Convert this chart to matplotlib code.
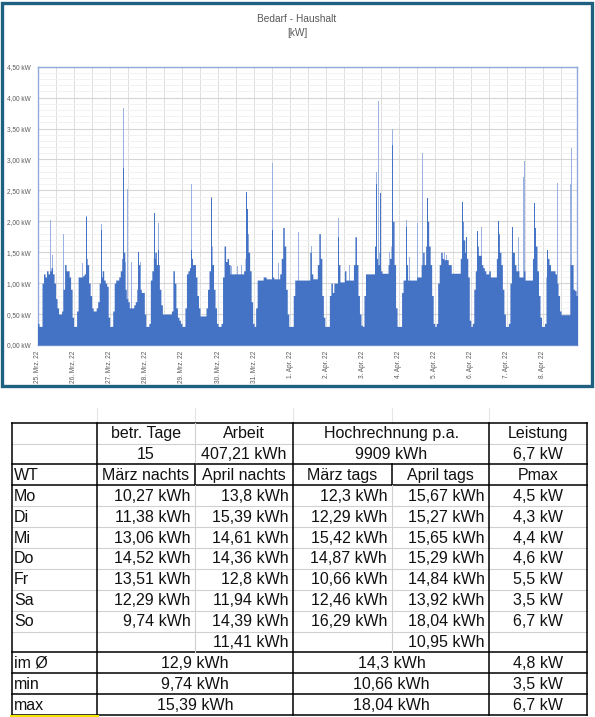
import numpy as np
import pandas as pd
import matplotlib
matplotlib.use("Agg")
import matplotlib.pyplot as plt
import matplotlib.dates as mdates
from matplotlib.patches import Rectangle

plt.rcParams["font.family"] = ["Liberation Sans", "DejaVu Sans"]

# --- DATA ---
# hourly load per day in kW, 25.03.22 - 08.04.22
kw_25mar = [0.35, 0.3, 0.3, 1.0, 1.15, 1.1, 1.2, 1.15, 1.2, 1.25, 1.15, 1.0, 0.75, 0.6, 0.5, 0.5, 0.55, 0.9, 1.3, 1.2, 1.2, 1.1, 0.9, 0.45]
kw_26mar = [0.3, 0.3, 0.55, 1.1, 1.1, 1.1, 1.12, 1.15, 1.4, 1.3, 1.0, 0.8, 0.6, 0.55, 0.55, 0.6, 0.7, 1.0, 1.1, 1.2, 1.05, 1.0, 0.95, 0.45]
kw_27mar = [0.3, 0.3, 0.55, 1.0, 1.05, 1.05, 1.1, 1.2, 1.4, 1.5, 0.9, 0.75, 0.7, 0.6, 0.6, 0.6, 0.65, 0.7, 0.9, 1.3, 0.9, 0.85, 0.85, 0.5]
kw_28mar = [0.3, 0.3, 0.35, 1.05, 1.2, 1.4, 1.5, 1.3, 1.3, 0.9, 0.65, 0.5, 0.5, 0.5, 0.5, 0.5, 0.5, 0.55, 1.2, 1.0, 0.6, 0.45, 0.4, 0.35]
kw_29mar = [0.3, 0.3, 0.6, 1.15, 1.2, 1.25, 1.4, 1.3, 1.3, 1.1, 0.8, 0.6, 0.47, 0.47, 0.47, 0.47, 0.6, 0.9, 1.2, 1.6, 1.3, 0.9, 0.6, 0.35]
kw_30mar = [0.3, 0.3, 0.35, 1.1, 1.6, 1.35, 1.4, 1.3, 1.15, 1.15, 1.15, 1.15, 1.15, 1.15, 1.15, 1.15, 1.15, 1.2, 1.4, 1.8, 1.5, 1.2, 0.7, 0.35]
kw_31mar = [0.3, 0.6, 1.05, 1.05, 1.05, 1.05, 1.1, 1.1, 1.07, 1.07, 1.07, 1.07, 1.1, 1.07, 1.07, 1.07, 1.07, 1.15, 1.4, 1.9, 1.6, 0.9, 0.5, 0.3]
kw_01apr = [0.3, 0.3, 0.8, 1.05, 1.05, 1.05, 1.05, 1.05, 1.05, 1.05, 1.05, 1.05, 1.05, 1.5, 1.15, 1.07, 1.07, 1.07, 1.3, 1.8, 1.4, 0.8, 0.45, 0.3]
kw_02apr = [0.3, 0.3, 0.8, 1.0, 0.85, 1.0, 1.0, 1.0, 1.3, 1.02, 1.02, 1.02, 1.2, 1.05, 1.05, 1.05, 1.05, 1.05, 1.3, 1.75, 1.3, 0.8, 0.5, 0.32]
kw_03apr = [0.3, 0.8, 1.15, 1.15, 1.15, 1.15, 1.15, 1.15, 1.6, 1.4, 1.3, 1.5, 1.2, 1.16, 1.16, 1.16, 1.16, 1.3, 1.4, 1.6, 2.0, 1.3, 0.6, 0.3]
kw_04apr = [0.3, 0.3, 0.85, 1.05, 1.05, 1.3, 1.05, 1.05, 1.05, 1.05, 1.05, 1.05, 1.1, 1.1, 1.1, 1.3, 1.5, 1.3, 1.6, 2.0, 1.6, 1.3, 0.8, 0.35]
kw_05apr = [0.3, 0.35, 1.0, 1.3, 1.5, 1.4, 1.38, 1.38, 1.38, 1.3, 1.3, 1.16, 1.16, 1.16, 1.16, 1.16, 1.16, 1.4, 2.0, 1.7, 1.5, 1.4, 1.1, 0.4]
kw_06apr = [0.3, 0.35, 0.9, 1.2, 1.6, 1.45, 1.45, 1.3, 1.25, 1.2, 1.15, 1.15, 1.2, 1.1, 1.1, 1.1, 1.1, 1.4, 1.8, 1.5, 1.3, 0.9, 0.5, 0.3]
kw_07apr = [0.3, 0.35, 1.0, 1.5, 1.5, 1.3, 1.2, 1.2, 1.1, 1.1, 1.1, 1.2, 1.05, 1.05, 1.05, 1.05, 1.05, 1.4, 1.9, 1.6, 1.2, 0.8, 0.45, 0.3]
kw_08apr = [0.3, 0.35, 1.1, 1.4, 1.3, 1.2, 1.2, 1.2, 1.15, 1.0, 0.8, 0.55, 0.49, 0.49, 0.49, 0.49, 0.49, 0.49, 1.3, 1.3, 0.9, 0.88, 0.8, 0.6]

# short load peaks (day index from 25.03., hour of day, kW)
spike_day = [0, 0, 0, 0, 0, 0, 0,
             1, 1, 1, 1,
             2, 2, 2, 2, 2, 2, 2, 2, 2,
             3, 3, 3,
             4, 4, 4, 4, 4,
             5, 5, 5, 5, 5, 5,
             6, 6, 6, 6,
             7, 7, 7, 7, 7, 7,
             8, 8, 8, 8,
             9, 9, 9, 9, 9,
             10, 10, 10, 10, 10, 10,
             11, 11, 11, 11, 11,
             12, 12, 12, 12, 12,
             13, 13, 13, 13, 13,
             14, 14, 14, 14, 14]
spike_hour = [0.2, 4.3, 8.8, 10.1, 14.3, 17.2, 18.3,
              6.0, 8.4, 14.2, 18.6,
              4.9, 9.0, 10.5, 11.7, 12.3, 13.5, 14.5, 16.9, 20.5,
              6.0, 8.3, 13.3,
              5.3, 6.4, 8.0, 14.6, 19.7,
              4.7, 9.0, 11.8, 13.0, 15.7, 19.2,
              5.8, 7.3, 12.2, 16.2,
              5.4, 6.5, 9.9, 11.0, 13.2, 14.3,
              6.5, 8.0, 12.4, 15.5,
              8.4, 9.5, 10.6, 18.0, 20.0,
              5.4, 7.2, 12.5, 14.3, 15.9, 19.7,
              4.2, 6.5, 8.0, 13.0, 20.8,
              4.0, 7.0, 12.0, 14.0, 18.6,
              3.5, 7.8, 11.2, 11.6, 19.2,
              3.2, 6.0, 9.5, 18.3, 19.1]
spike_kw = [2.4, 1.75, 2.02, 1.45, 1.6, 1.8, 3.5,
            1.32, 2.08, 2.54, 1.95,
            1.5, 3.83, 1.35, 2.53, 1.6, 1.97, 1.35, 2.95, 1.35,
            3.17, 1.97, 1.54,
            1.91, 2.6, 3.32, 1.65, 2.4,
            2.1, 1.27, 2.37, 1.28, 1.3, 2.5,
            1.8, 1.6, 2.94, 1.32,
            1.83, 1.6, 1.75, 1.6, 3.29, 1.6,
            1.2, 2.05, 2.35, 1.3,
            4.07, 2.8, 3.94, 1.5, 3.5,
            2.02, 1.43, 1.97, 2.13, 3.1, 2.5,
            1.9, 1.5, 1.45, 1.3, 3.61,
            1.95, 1.9, 3.05, 1.3, 2.45,
            1.97, 1.75, 2.72, 2.97, 2.5,
            1.97, 1.35, 2.62, 2.6, 3.18]

# wider dark peaks (day index, hour, kW)
peak_day = [0, 1, 1, 2, 2, 3, 3, 3, 4, 4, 5, 5, 5, 6, 6, 7, 7, 8, 8, 8,
            9, 9, 9, 9, 10, 10, 10, 11, 11, 11, 12, 12, 13, 13, 14, 14]
peak_hour = [18.3, 8.5, 18.6, 9.0, 19.0, 6.0, 8.3, 18.8, 6.4, 19.7, 4.7, 19.0, 19.8, 12.2, 19.8, 13.2, 19.7, 8.0, 12.4, 19.0,
             8.4, 9.5, 11.8, 20.0, 5.4, 16.2, 19.2, 4.2, 18.4, 21.0, 4.5, 18.3, 3.8, 18.4, 3.2, 18.0]
peak_kw = [2.5, 2.07, 1.86, 2.86, 1.5, 2.13, 1.54, 1.89, 1.54, 2.37, 2.05, 2.48, 2.2, 1.86, 2.45, 2.67, 2.35, 1.75, 1.7, 1.94,
           2.29, 2.6, 2.45, 3.24, 1.9, 1.6, 2.37, 1.78, 2.32, 1.75, 1.85, 2.0, 1.9, 2.3, 1.54, 1.75]

date_labels = ["25. Mrz. 22", "26. Mrz. 22", "27. Mrz. 22", "28. Mrz. 22", "29. Mrz. 22",
               "30. Mrz. 22", "31. Mrz. 22", "1. Apr. 22", "2. Apr. 22", "3. Apr. 22",
               "4. Apr. 22", "5. Apr. 22", "6. Apr. 22", "7. Apr. 22", "8. Apr. 22"]
ytick_values = [0, 0.5, 1.0, 1.5, 2.0, 2.5, 3.0, 3.5, 4.0, 4.5]
ytick_labels = ["0,00 kW", "0,50 kW", "1,00 kW", "1,50 kW", "2,00 kW",
                "2,50 kW", "3,00 kW", "3,50 kW", "4,00 kW", "4,50 kW"]

# table
header1 = ["", "betr. Tage", "Arbeit", "Hochrechnung p.a.", "Leistung"]
header2 = ["", "15", "407,21 kWh", "9909 kWh", "6,7 kW"]
col_heads = ["WT", "März nachts", "April nachts", "März tags", "April tags", "Pmax"]
weekdays = ["Mo", "Di", "Mi", "Do", "Fr", "Sa", "So", ""]
maerz_nachts = ["10,27 kWh", "11,38 kWh", "13,06 kWh", "14,52 kWh", "13,51 kWh", "12,29 kWh", "9,74 kWh", ""]
april_nachts = ["13,8 kWh", "15,39 kWh", "14,61 kWh", "14,36 kWh", "12,8 kWh", "11,94 kWh", "14,39 kWh", "11,41 kWh"]
maerz_tags = ["12,3 kWh", "12,29 kWh", "15,42 kWh", "14,87 kWh", "10,66 kWh", "12,46 kWh", "16,29 kWh", ""]
april_tags = ["15,67 kWh", "15,27 kWh", "15,65 kWh", "15,29 kWh", "14,84 kWh", "13,92 kWh", "18,04 kWh", "10,95 kWh"]
pmax = ["4,5 kW", "4,3 kW", "4,4 kW", "4,6 kW", "5,5 kW", "3,5 kW", "6,7 kW", ""]
summary_labels = ["im Ø", "min", "max"]
summary_nachts = ["12,9 kWh", "9,74 kWh", "15,39 kWh"]
summary_tags = ["14,3 kWh", "10,66 kWh", "18,04 kWh"]
summary_pmax = ["4,8 kW", "3,5 kW", "6,7 kW"]

# --- PREP ---
days = [kw_25mar, kw_26mar, kw_27mar, kw_28mar, kw_29mar, kw_30mar, kw_31mar, kw_01apr,
        kw_02apr, kw_03apr, kw_04apr, kw_05apr, kw_06apr, kw_07apr, kw_08apr]
hourly_kw = np.concatenate(days)
t0 = pd.Timestamp("2022-03-25")
x0 = mdates.date2num(t0)
x_edges = x0 + np.arange(len(hourly_kw) + 1) / 24
x_spikes = x0 + np.array(spike_day) + np.array(spike_hour) / 24
x_peaks = x0 + np.array(peak_day) + np.array(peak_hour) / 24

BLUE = "#4472C4"
LIGHT = "#9CB3E1"
GRAY = "#595959"

# --- PLOTTING ---
fig = plt.figure(figsize=(5.95, 7.17), dpi=100)
W, H = 595, 717

# chart frame
fig.patches.append(Rectangle((1.7 / W, 1 - 386 / H), 590 / W, 383.3 / H, transform=fig.transFigure,
                             fill=False, edgecolor="#1F5F80", lw=2.4))

ax = fig.add_axes([37.5 / W, 1 - 345 / H, 539.8 / W, 278.3 / H])
ax.bar(x_spikes, spike_kw, width=0.35 / 24, color=LIGHT, lw=0, zorder=2)
ax.fill_between(x_edges, np.append(hourly_kw, hourly_kw[-1]), step="post",
                color=BLUE, lw=0, zorder=3)
ax.bar(x_peaks, peak_kw, width=0.5 / 24, color=BLUE, lw=0, zorder=3)

ax.set_xlim(x0, x0 + 14.95)
ax.set_ylim(0, 4.5)
ax.set_xticks(x0 + np.arange(15))
ax.set_xticklabels(date_labels, rotation=90, fontsize=4.7, color=GRAY, va="top")
ax.set_xticks(x0 + np.arange(15) + 0.5, minor=True)
ax.set_yticks(ytick_values)
ax.set_yticklabels(ytick_labels, fontsize=4.7, color=GRAY)
ax.set_yticks(np.arange(0, 4.5, 0.1), minor=True)
ax.tick_params(which="both", length=0)
ax.tick_params(axis="x", pad=4)
ax.tick_params(axis="y", pad=5)
ax.grid(axis="y", which="major", color="#D6D6D6", lw=0.8, zorder=0)
ax.grid(axis="y", which="minor", color="#F0F0F0", lw=0.6, zorder=0)
ax.grid(axis="x", which="both", color="#DEDEDE", lw=0.7, zorder=0)
ax.set_axisbelow(True)
for s in ax.spines.values():
    s.set_color("#8FAADC")
    s.set_linewidth(1.0)

fig.text(297 / W, 1 - 19 / H, "Bedarf - Haushalt", ha="center", va="center", fontsize=7.3, color=GRAY)
fig.text(297 / W, 1 - 33 / H, "[kW]", ha="center", va="center", fontsize=7.3, color=GRAY)

# table drawn in pixel coordinates
tb = fig.add_axes([0, 0, 1, 1])
tb.set_xlim(0, W)
tb.set_ylim(H, 0)
tb.axis("off")

cx = [11.7, 96.7, 195, 293.3, 391.7, 489, 586.7]
ry = [422.7 + i * 20.88 for i in range(15)]
BLK = dict(color="black", lw=1.1, solid_capstyle="projecting")
GRY = dict(color="#D0D0D0", lw=0.8)
FS = 11.5

# sheet gridline stubs above the table
for x in cx[1:6]:
    tb.plot([x, x], [408, ry[0]], color="#E6E6E6", lw=0.8)

# horizontal lines
for i, y in enumerate(ry):
    style = GRY if i in (1, 4, 5, 6, 7, 8, 9, 10) else BLK
    tb.plot([cx[0], cx[6]], [y, y], **style)

# vertical lines
for x in (cx[0], cx[1], cx[3], cx[5], cx[6]):
    tb.plot([x, x], [ry[0], ry[14]], **BLK)
for x in (cx[2], cx[4]):
    if x == cx[2]:
        tb.plot([x, x], [ry[0], ry[2]], **GRY)
    tb.plot([x, x], [ry[2], ry[3]], **BLK)
    tb.plot([x, x], [ry[3], ry[11]], **GRY)

# yellow selection mark under "max"
tb.plot([cx[0] - 1, cx[1]], [716, 716], color="#F2E600", lw=2.2)

def mid(i):
    return (ry[i] + ry[i + 1]) / 2

def cell(text, x, row, ha="center"):
    tb.text(x, mid(row) + 0.5, text, ha=ha, va="center", fontsize=FS, color="#111111")

centers1 = [(cx[1] + cx[2]) / 2, (cx[2] + cx[3]) / 2, (cx[3] + cx[5]) / 2, (cx[5] + cx[6]) / 2]
for j in range(1, 5):
    cell(header1[j], centers1[j - 1], 0)
    cell(header2[j], centers1[j - 1], 1)

cell(col_heads[0], cx[0] + 2.5, 2, ha="left")
for j in range(1, 6):
    cell(col_heads[j], (cx[j] + cx[j + 1]) / 2, 2)

for k in range(8):
    r = 3 + k
    cell(weekdays[k], cx[0] + 2.5, r, ha="left")
    cell(maerz_nachts[k], cx[2] - 4.5, r, ha="right")
    cell(april_nachts[k], cx[3] - 4.5, r, ha="right")
    cell(maerz_tags[k], cx[4] - 4.5, r, ha="right")
    cell(april_tags[k], cx[5] - 4.5, r, ha="right")
    cell(pmax[k], (cx[5] + cx[6]) / 2, r)

for k in range(3):
    r = 11 + k
    cell(summary_labels[k], cx[0] + 2.5, r, ha="left")
    cell(summary_nachts[k], cx[2], r)
    cell(summary_tags[k], cx[4], r)
    cell(summary_pmax[k], (cx[5] + cx[6]) / 2, r)

fig.savefig("out.png", dpi=100)
